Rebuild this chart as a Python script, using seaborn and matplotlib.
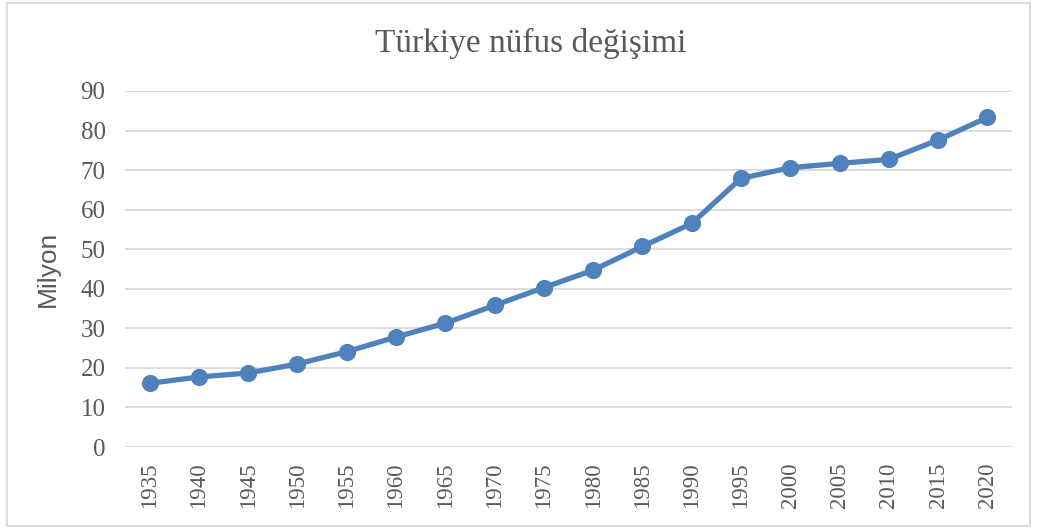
import pandas as pd
import matplotlib.pyplot as plt
import seaborn as sns
from matplotlib.patches import Rectangle

# veriler (milyon)
yillar = ['1935', '1940', '1945', '1950', '1955', '1960', '1965', '1970', '1975',
          '1980', '1985', '1990', '1995', '2000', '2005', '2010', '2015', '2020']
nufus = [16.1, 17.7, 18.7, 21.0, 24.1, 27.8, 31.3, 35.8, 40.3,
         44.7, 50.7, 56.5, 67.9, 70.6, 71.7, 72.7, 77.6, 83.3]

df = pd.DataFrame({'yil': yillar, 'nufus': nufus})

sns.set_style('white')
plt.rcParams['font.family'] = ['Liberation Serif', 'DejaVu Serif']

fig = plt.figure(figsize=(10.37, 5.28), dpi=100)
ax = fig.add_axes([0.1205, 0.1534, 0.8554, 0.6743])

sns.pointplot(x='yil', y='nufus', data=df, ax=ax, color='#4F81BD',
              markers='o', linewidth=3.8, markersize=9.5, errorbar=None)

ax.set_xlim(-0.5, len(yillar) - 0.5)
ax.set_ylim(0, 90)
ax.set_yticks(range(0, 91, 10))
ax.yaxis.grid(True, color='#D9D9D9', linewidth=1.3)
ax.set_axisbelow(True)
for s in ax.spines.values():
    s.set_visible(False)

ax.tick_params(axis='y', length=0, pad=14, labelsize=18, labelcolor='#595959')
ax.tick_params(axis='x', length=0, pad=11, labelsize=16.5, labelcolor='#595959',
               labelrotation=90)
ax.set_xlabel('')
ax.set_ylabel('Milyon', family=['Liberation Sans', 'DejaVu Sans'],
              fontsize=19, color='#595959')
ax.yaxis.set_label_coords(-0.073, 0.5)

fig.text(0.512, 0.918, 'Türkiye nüfus değişimi', ha='center', va='center',
         fontsize=24, color='#595959')

# dış çerçeve
fig.patches.append(Rectangle((0.007, 0.004), 0.986, 0.99, transform=fig.transFigure,
                             fill=False, edgecolor='#D9D9D9', linewidth=1.3))

plt.savefig('out.png', dpi=100)
